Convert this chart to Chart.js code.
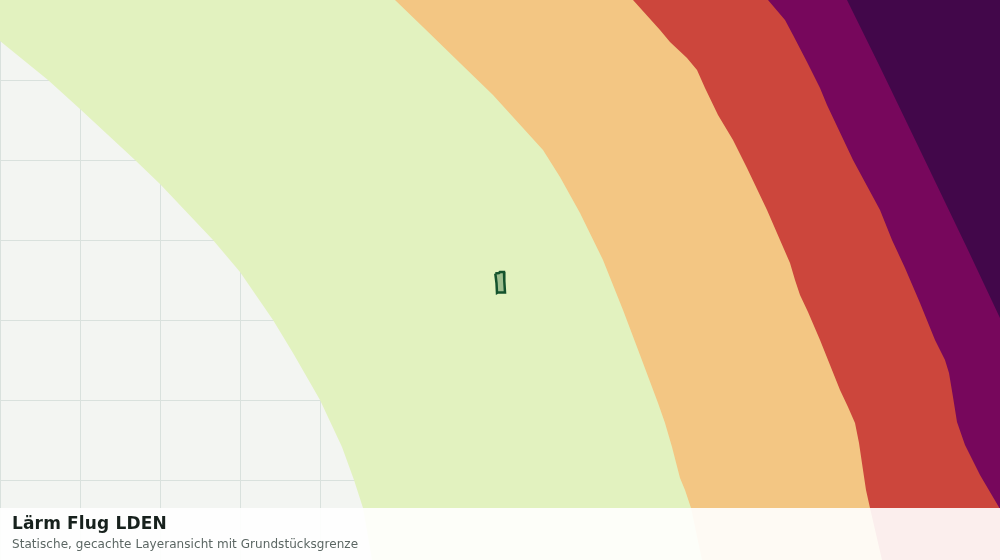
<!DOCTYPE html>
<html lang="de">
<head>
<meta charset="utf-8">
<title>Lärm Flug LDEN</title>
<script src="https://cdn.jsdelivr.net/npm/chart.js@4"></script>
<style>
    html, body { margin: 0; padding: 0; background: #f3f5f2; }
    #wrap { position: relative; width: 1000px; height: 560px; overflow: hidden; }
    #caption {
        position: absolute; left: 0; top: 508px; width: 1000px; height: 52px;
        background: rgba(255, 255, 255, 0.91);
        font-family: "DejaVu Sans", sans-serif;
    }
    #caption .t { position: absolute; left: 12px; top: 5px; font-size: 17px; font-weight: 700; color: #17211d; letter-spacing: 0.15px; white-space: nowrap; }
    #caption .s { position: absolute; left: 12px; top: 29px; font-size: 12px; color: #5b6663; letter-spacing: 0.06px; white-space: nowrap; }
</style>
</head>
<body>
<div id="wrap">
    <canvas id="chart" width="1000" height="560"></canvas>
    <div id="caption">
        <div class="t">Lärm Flug LDEN</div>
        <div class="s">Statische, gecachte Layeransicht mit Grundstücksgrenze</div>
    </div>
</div>
<script>
// Randlinien der Laermzonen (x, y in Kartenpixeln)
const zoneGreen = [[0, 0], [0, 41], [48, 80], [80, 109], [135, 160], [160, 184], [213, 240], [240, 272], [273, 320], [293, 353], [320, 400], [342, 447], [354, 480], [363, 508], [372, 560]];
const zoneOrange = [[395, 0], [423, 27], [460, 63], [493, 95], [523, 128], [543, 150], [560, 177], [580, 213], [603, 260], [623, 310], [640, 355], [658, 403], [665, 423], [672, 447], [680, 478], [685, 490], [691, 508], [702, 560]];
const zoneRed = [[633, 0], [660, 30], [670, 42], [687, 58], [697, 70], [705, 88], [718, 115], [733, 140], [747, 168], [767, 210], [780, 240], [790, 263], [795, 280], [800, 295], [808, 312], [820, 340], [830, 365], [840, 390], [848, 407], [855, 423], [859, 443], [863, 470], [866, 490], [870, 508], [882, 560]];
const zonePurple = [[768, 0], [785, 20], [793, 35], [807, 62], [820, 88], [827, 105], [853, 160], [880, 210], [892, 240], [905, 268], [920, 303], [935, 340], [945, 360], [949, 373], [953, 397], [957, 422], [965, 445], [980, 475], [1000, 509]];
const zoneDark = [[847, 0], [880, 67], [920, 150], [968, 250], [1000, 318]];
const parcel = [[495.3, 273.5], [499, 273], [500, 272], [504, 272], [504.3, 281], [505, 292.5], [498, 292.5], [497, 293], [496.5, 283], [495.3, 273.5]];

const mapWidth = 1000;
const mapHeight = 560;
const gridStep = 80;

// Zone bis in die rechte obere Ecke schliessen
function closeZone(line) {
    return line.concat([[mapWidth, mapHeight], [mapWidth, 0]]).map(p => ({ x: p[0], y: p[1] }));
}

// Chart.js malt den ersten Datensatz zuletzt, daher von oben nach unten sortiert
function zoneDataset(line, color) {
    return {
        data: closeZone(line),
        showLine: true,
        fill: 'shape',
        backgroundColor: color,
        borderWidth: 0,
        pointRadius: 0,
        tension: 0
    };
}

new Chart(document.getElementById('chart'), {
    type: 'scatter',
    data: {
        datasets: [
            {
                data: parcel.map(p => ({ x: p[0], y: p[1] })),
                showLine: true,
                fill: 'shape',
                backgroundColor: '#a0c090',
                borderColor: '#14532d',
                borderWidth: 2.5,
                pointRadius: 0,
                tension: 0
            },
            zoneDataset(zoneDark, '#42074a'),
            zoneDataset(zonePurple, '#77075c'),
            zoneDataset(zoneRed, '#cc463c'),
            zoneDataset(zoneOrange, '#f3c683'),
            zoneDataset(zoneGreen, '#e2f2bf')
        ]
    },
    options: {
        responsive: false,
        animation: false,
        layout: { padding: 0 },
        plugins: { legend: { display: false }, tooltip: { enabled: false } },
        scales: {
            x: {
                type: 'linear', min: 0, max: mapWidth,
                ticks: { display: false, stepSize: gridStep, autoSkip: false },
                grid: { color: '#d9e1dd', lineWidth: 1, drawTicks: false },
                border: { display: false }
            },
            y: {
                type: 'linear', min: 0, max: mapHeight, reverse: true,
                ticks: { display: false, stepSize: gridStep, autoSkip: false },
                grid: { color: '#d9e1dd', lineWidth: 1, drawTicks: false },
                border: { display: false }
            }
        }
    }
});
</script>
</body>
</html>
